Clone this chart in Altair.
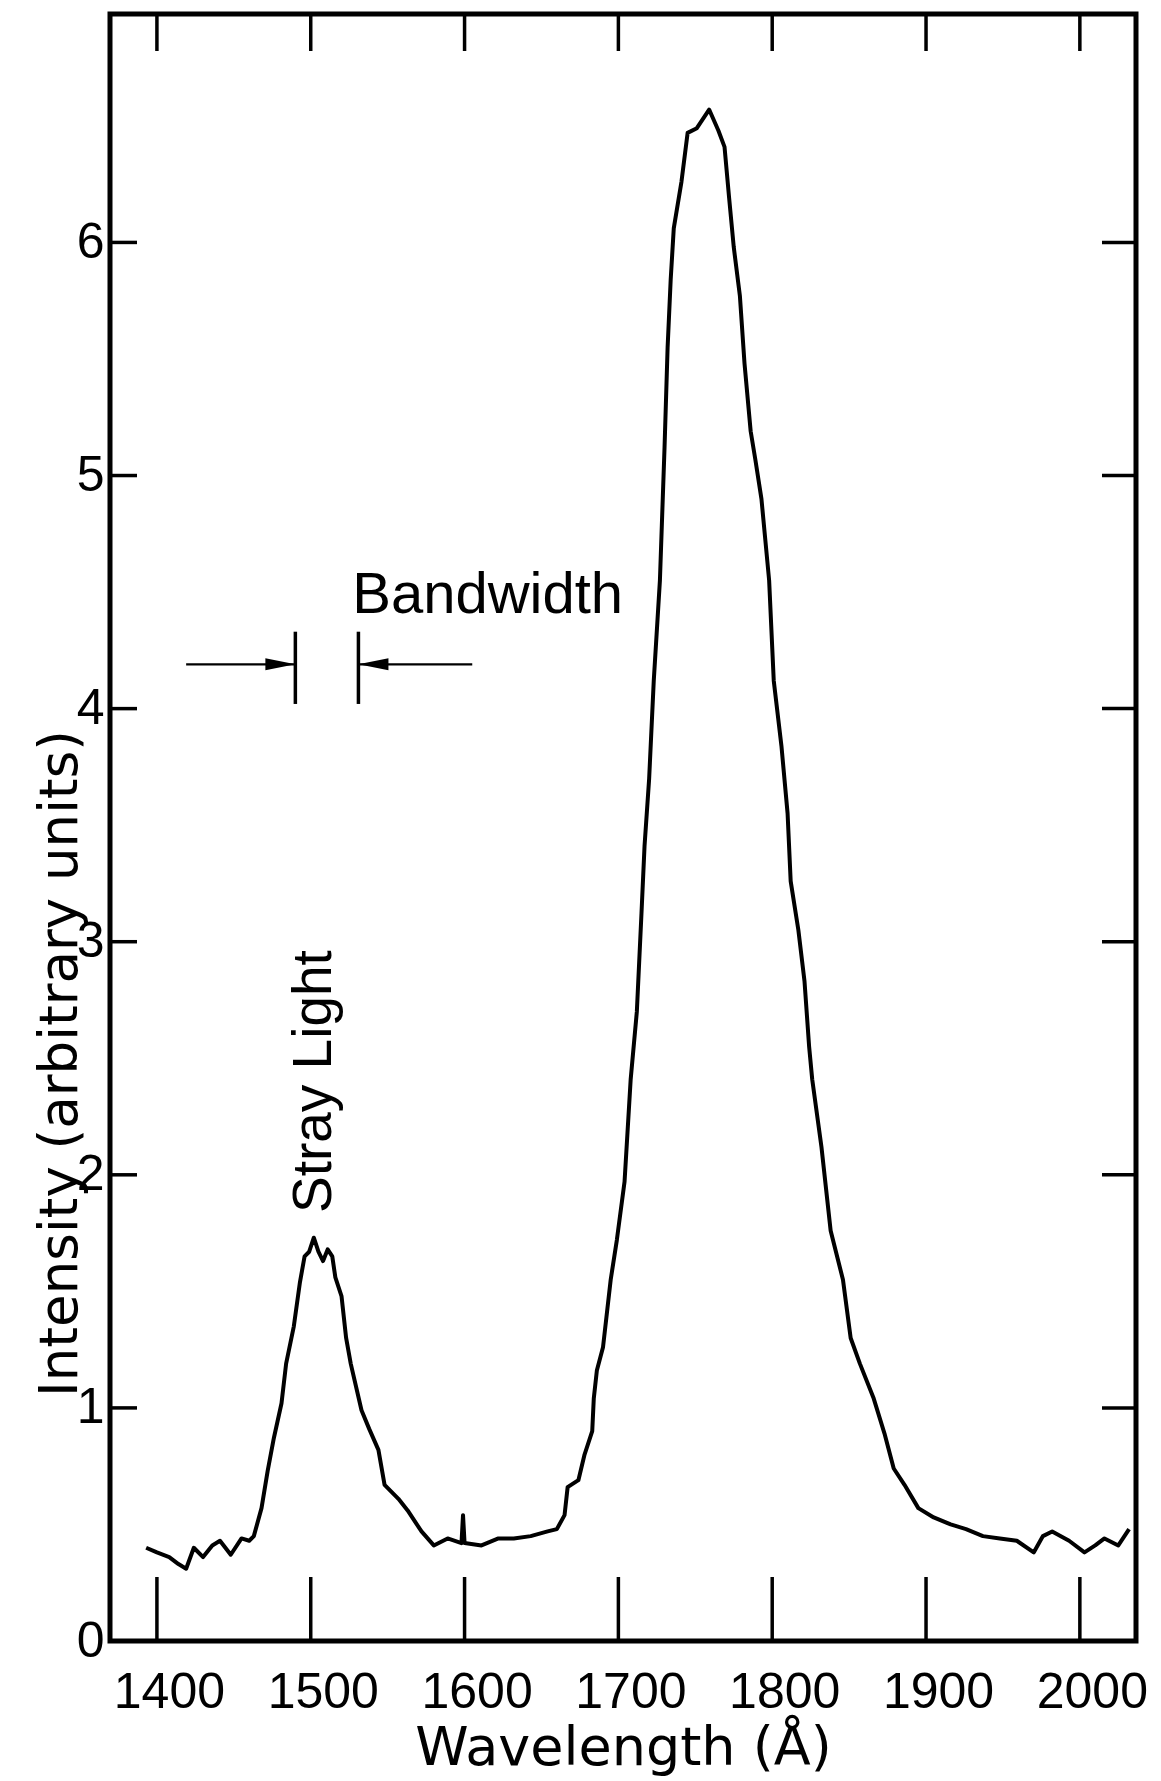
import altair as alt
import pandas as pd

# ---- spectrum ----
wavelength = [1393, 1400, 1408, 1414, 1419, 1424, 1430, 1436, 1441, 1448, 1455, 1460, 1463,
              1468, 1472, 1476, 1481, 1484, 1489, 1493, 1496, 1499, 1502, 1505, 1508, 1511,
              1514, 1516, 1520, 1523, 1526, 1533, 1538, 1544, 1548, 1557, 1563, 1572, 1580,
              1589, 1598, 1599, 1600, 1611, 1622, 1632, 1643, 1654, 1660, 1665, 1667, 1674,
              1678, 1683, 1684, 1686, 1690, 1695, 1699, 1704, 1708, 1712, 1715, 1717, 1720,
              1723, 1727, 1730, 1732, 1734, 1736, 1741, 1745, 1751, 1759, 1765, 1769, 1772,
              1775, 1779, 1782, 1786, 1789, 1793, 1798, 1801, 1806, 1810, 1812, 1817, 1821,
              1824, 1826, 1832, 1838, 1846, 1851, 1857, 1866, 1873, 1879, 1886, 1895, 1905,
              1916, 1926, 1937, 1948, 1959, 1970, 1976, 1982, 1993, 2003, 2010, 2016, 2025,
              2032]
intensity = [0.40, 0.38, 0.36, 0.33, 0.31, 0.40, 0.36, 0.41, 0.43, 0.37, 0.44, 0.43, 0.45,
             0.57, 0.73, 0.87, 1.02, 1.19, 1.35, 1.54, 1.65, 1.67, 1.73, 1.67, 1.63, 1.68,
             1.65, 1.56, 1.48, 1.30, 1.19, 0.99, 0.91, 0.82, 0.67, 0.61, 0.56, 0.47, 0.41,
             0.44, 0.42, 0.54, 0.42, 0.41, 0.44, 0.44, 0.45, 0.47, 0.48, 0.54, 0.66, 0.69,
             0.80, 0.90, 1.04, 1.16, 1.26, 1.55, 1.72, 1.97, 2.41, 2.70, 3.12, 3.41, 3.70,
             4.12, 4.55, 5.12, 5.55, 5.84, 6.06, 6.26, 6.47, 6.49, 6.57, 6.48, 6.41, 6.19,
             5.98, 5.77, 5.48, 5.19, 5.07, 4.90, 4.55, 4.12, 3.84, 3.55, 3.26, 3.05, 2.83,
             2.55, 2.41, 2.12, 1.76, 1.55, 1.30, 1.19, 1.04, 0.89, 0.74, 0.67, 0.57, 0.53,
             0.50, 0.48, 0.45, 0.44, 0.43, 0.38, 0.45, 0.47, 0.43, 0.38, 0.41, 0.44, 0.41,
             0.48]

# ---- axes ----
x_ticks = [1400, 1500, 1600, 1700, 1800, 1900, 2000]
y_labels = [0, 1, 2, 3, 4, 5, 6]
y_ticks = [1, 2, 3, 4, 5, 6]
x_title = "Wavelength (Å)"
y_title = "Intensity (arbitrary units)"

# ---- annotations ----
bw_edges = [1490, 1531]
bw_arrow_tails = [1419, 1605]
bw_level = 4.19
bw_bar_lo = 4.02
bw_bar_hi = 4.33
bw_head_dir = ["right", "left"]
bw_text = ["Bandwidth"]
bw_text_x = [1527]
bw_text_y = [4.41]
stray_text = ["Stray Light"]
stray_text_x = [1502]
stray_text_y = [2.40]

W, H = 1026, 1627
xs = alt.Scale(domain=[1369.5, 2036.5], nice=False, zero=False)
ys = alt.Scale(domain=[0, 6.98], nice=False, zero=False)

NUM = "Liberation Sans, Arial, sans-serif"
SANS = "DejaVu Sans, sans-serif"
LSANS = "Liberation Sans, Arial, sans-serif"

x_axis = alt.Axis(
    values=x_ticks, title=x_title, format="d", grid=False, domain=False, ticks=False,
    labelFont=NUM, labelFontSize=50, labelColor="black", labelPadding=26,
    labelBaseline="top", labelOffset=12, labelFlush=False, labelOverlap=False,
    titleFont=SANS, titleFontSize=54, titleFontWeight="normal", titleColor="black",
    titleY=107, titleBaseline="middle")
y_axis = alt.Axis(
    values=y_labels, title=y_title, format="d", grid=False, domain=False, ticks=False,
    labelFont=NUM, labelFontSize=50, labelColor="black", labelPadding=6,
    labelAlign="right", labelBaseline="middle", labelFlush=False, labelOverlap=False,
    titleFont=SANS, titleFontSize=53, titleFontWeight="normal", titleColor="black",
    titleAngle=270, titleX=-50, titleY=1049, titleAlign="center",
    titleBaseline="middle")


def X(field):
    return alt.X(field, scale=xs, axis=x_axis)


def Y(field):
    return alt.Y(field, scale=ys, axis=y_axis)


spec = pd.DataFrame({"wl": wavelength, "I": intensity})

line = alt.Chart(spec).mark_line(color="black", strokeWidth=4, strokeJoin="round").encode(
    x=X("wl:Q"), y=Y("I:Q"))

xt = pd.DataFrame({"x": x_ticks})
yt = pd.DataFrame({"y": y_ticks})
rule_style = dict(color="black", strokeWidth=3.5)

bottom_ticks = alt.Chart(xt).mark_rule(**rule_style).encode(
    x=X("x:Q"), y=alt.value(H), y2=alt.value(H - 64))
top_ticks = alt.Chart(xt).mark_rule(**rule_style).encode(
    x=X("x:Q"), y=alt.value(0), y2=alt.value(37))
left_ticks = alt.Chart(yt).mark_rule(**rule_style).encode(
    y=Y("y:Q"), x=alt.value(0), x2=alt.value(27))
right_ticks = alt.Chart(yt).mark_rule(**rule_style).encode(
    y=Y("y:Q"), x=alt.value(W), x2=alt.value(W - 34))

bw = pd.DataFrame({"x": bw_edges, "tail": bw_arrow_tails,
                   "lo": [bw_bar_lo] * 2, "hi": [bw_bar_hi] * 2,
                   "lvl": [bw_level] * 2, "dir": bw_head_dir})

bars = alt.Chart(bw).mark_rule(color="black", strokeWidth=3.5).encode(
    x=X("x:Q"), y=Y("lo:Q"), y2="hi:Q")
shafts = alt.Chart(bw).mark_rule(color="black", strokeWidth=2.2).encode(
    x=X("tail:Q"), x2="x:Q", y=Y("lvl:Q"))
heads = alt.Chart(bw).mark_point(filled=True, color="black", opacity=1, size=900,
                                 strokeWidth=0).encode(
    x=X("x:Q"), y=Y("lvl:Q"),
    shape=alt.Shape("dir:N", legend=None, scale=alt.Scale(
        domain=["right", "left"],
        range=["M0,0L-2,-0.4L-2,0.4Z", "M0,0L2,-0.4L2,0.4Z"])))

bw_lab = alt.Chart(pd.DataFrame({"t": bw_text, "x": bw_text_x, "y": bw_text_y})).mark_text(
    align="left", baseline="alphabetic", font=LSANS, fontSize=58, color="black").encode(
    x=X("x:Q"), y=Y("y:Q"), text="t:N")

stray_lab = alt.Chart(pd.DataFrame({"t": stray_text, "x": stray_text_x, "y": stray_text_y})).mark_text(
    align="center", baseline="middle", angle=270, font=LSANS, fontSize=55, color="black").encode(
    x=X("x:Q"), y=Y("y:Q"), text="t:N")

chart = alt.layer(
    line, bottom_ticks, top_ticks, left_ticks, right_ticks,
    bars, shafts, heads, bw_lab, stray_lab
).properties(
    width=W, height=H,
    autosize=alt.AutoSizeParams(type="none"),
    padding={"left": 102, "top": 6, "right": 17, "bottom": 140},
    background="white",
).configure_view(stroke="black", strokeWidth=5)

chart.save("out.html", embed_options={"renderer": "svg", "actions": False})
